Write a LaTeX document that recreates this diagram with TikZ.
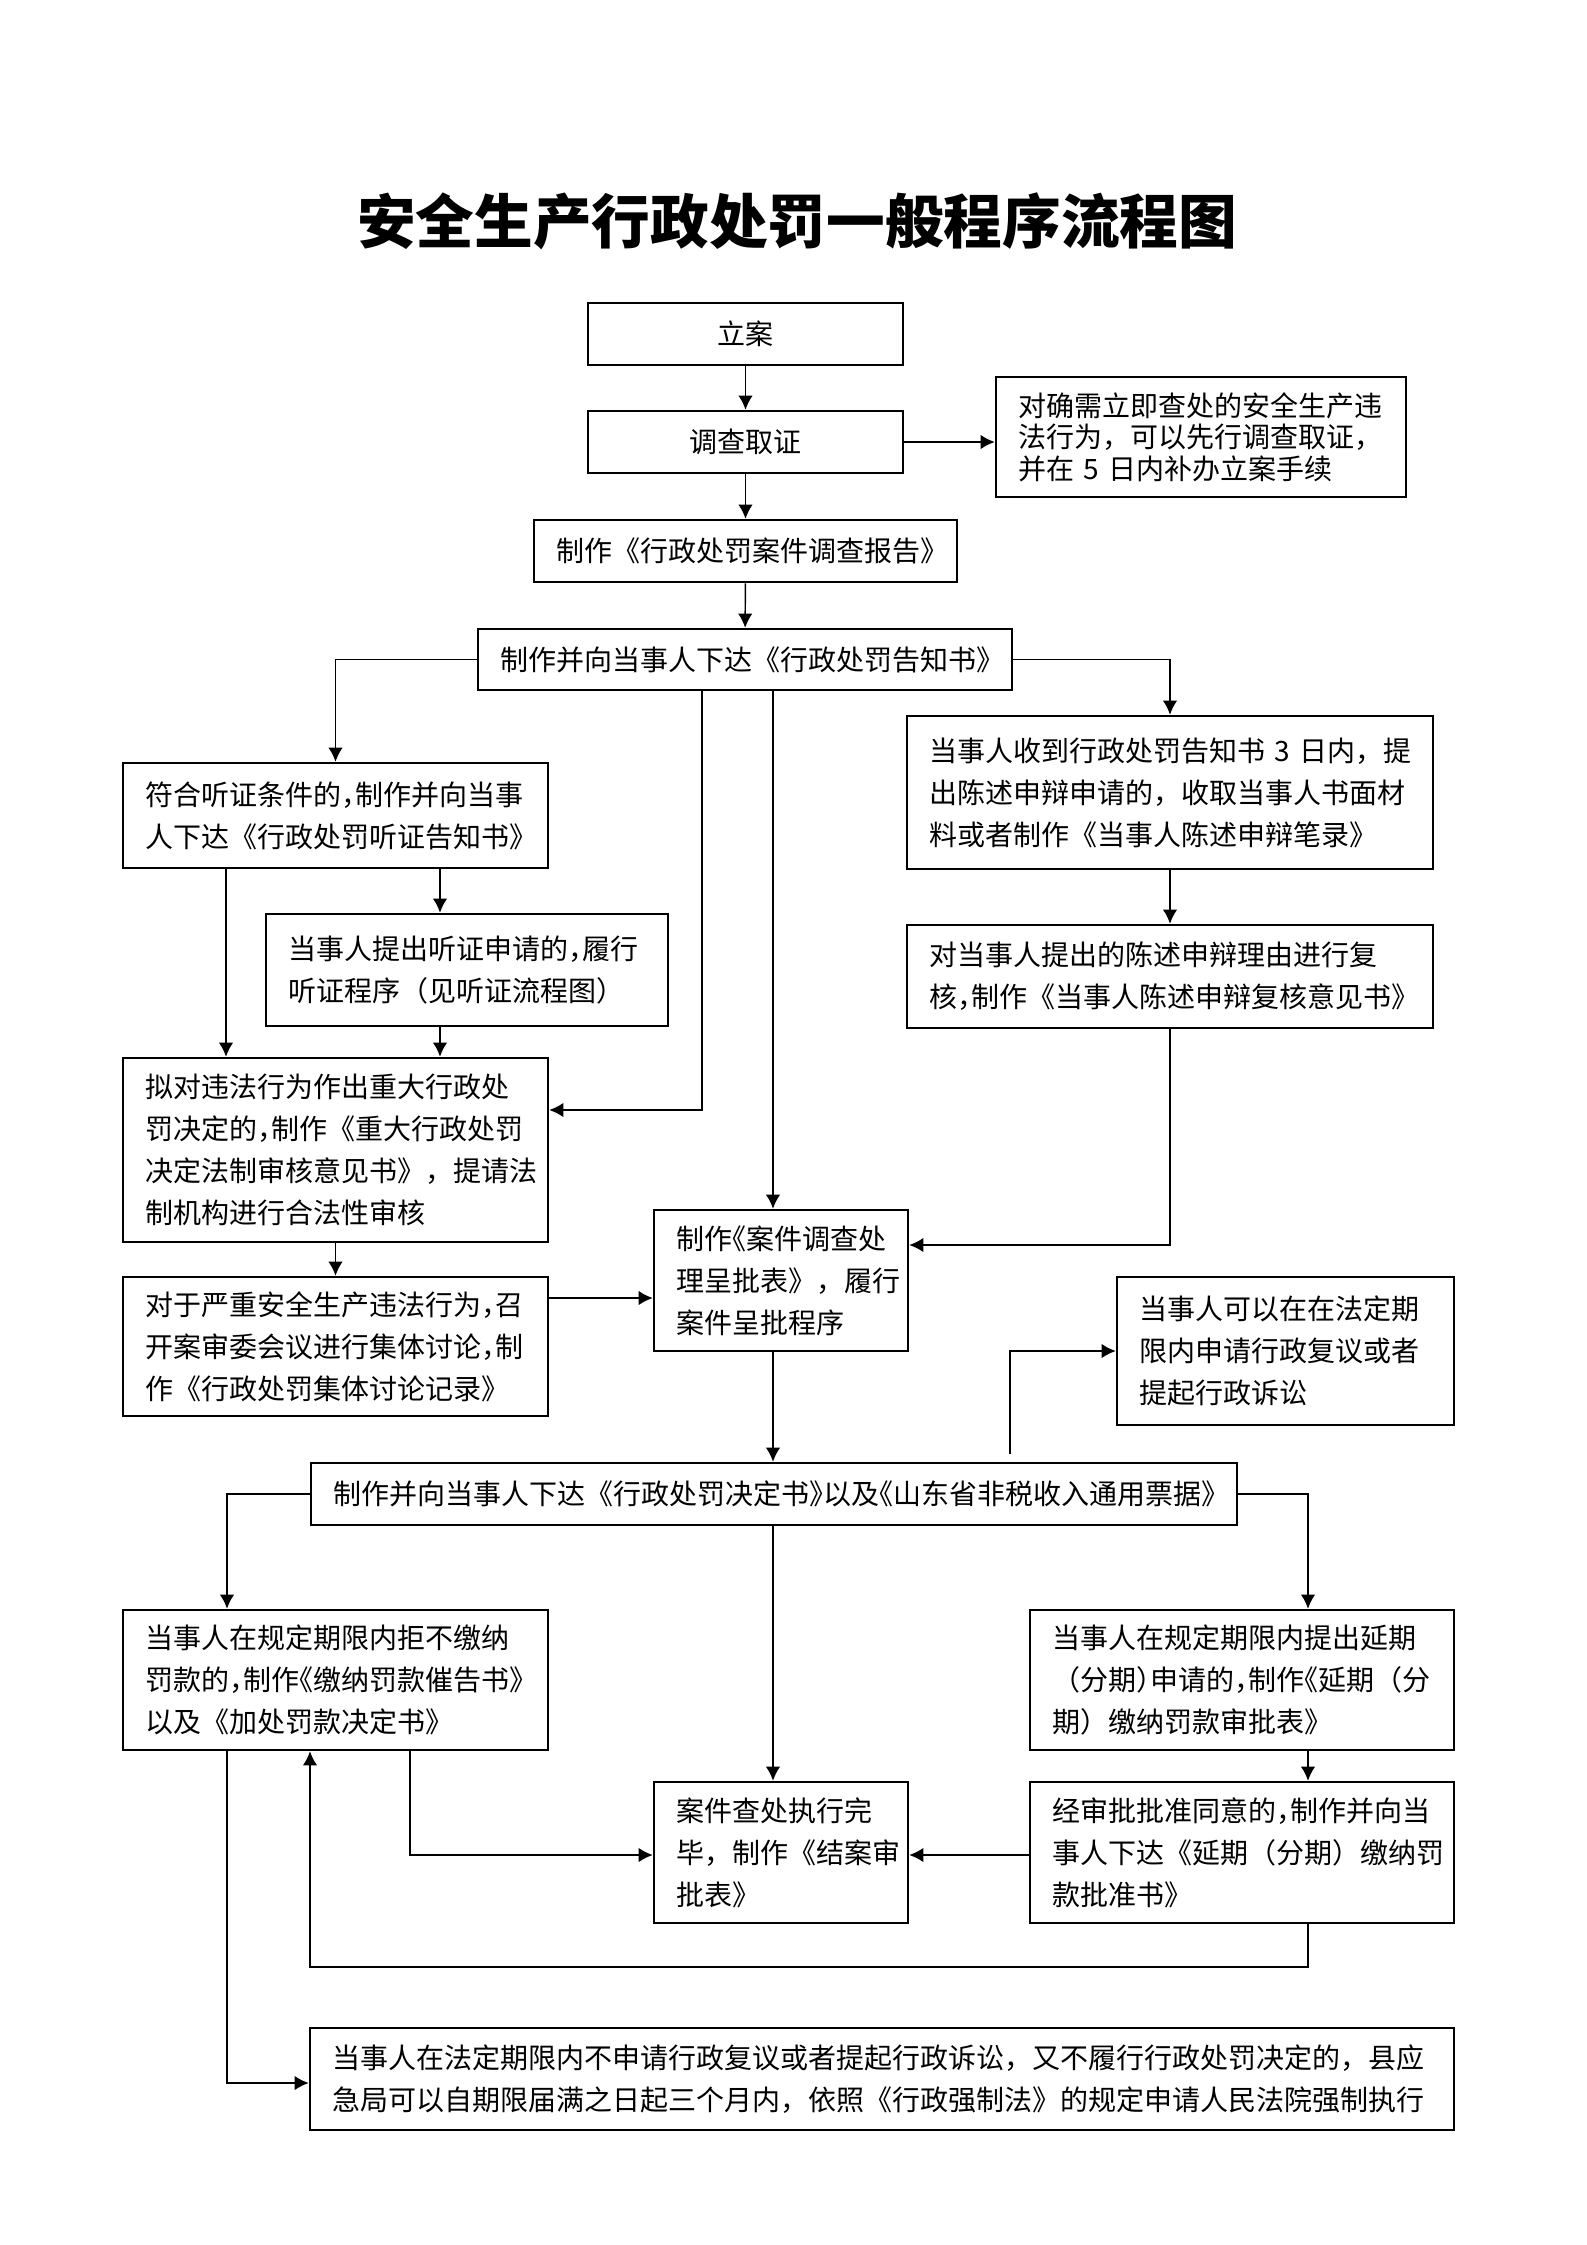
\documentclass[tikz,border=0pt]{standalone}
\usepackage{fontspec}
\newfontfamily\cjk{Noto Sans CJK SC}
\usetikzlibrary{arrows.meta,calc}
\newcommand\hp[1]{{\addfontfeature{RawFeature=+halt}#1}}
\newcommand\flowbox[7]{%
 \pgfmathsetmacro\myBW{(#4-#2)*0.375}%
 \pgfmathsetmacro\myBH{(#5-#3)*0.375}%
 \pgfmathsetmacro\myTW{(#4-#2)*0.375-16.5}%
 \node[box,#6,minimum width=\myBW pt,minimum height=\myBH pt,text width=\myTW pt] (#1) at ({(#2+#4)/2},{(#3+#5)/2}) {#7};}
\tikzset{
 box/.style={draw, line width=0.95pt, inner xsep=8.25pt, inner ysep=0pt, font=\cjk\fontsize{10.5pt}{15.75pt}\selectfont},
 lbox/.style={align=left},
 cbox/.style={align=center},
 notebox/.style={align=left, font=\cjk\fontsize{10.5pt}{11.8pt}\selectfont},
 arr/.style={line width=0.55pt, -{Latex[length=5.3pt,width=5.4pt]}},
 titlestyle/.style={font=\cjk\bfseries\fontsize{22pt}{26pt}\selectfont, inner sep=0pt},
}
\begin{document}
\begin{tikzpicture}[x=0.375pt,y=-0.375pt]
\fill[white] (0,0) rectangle (1587,2245);
\useasboundingbox (0,0) rectangle (1587,2245);

\node[titlestyle] (title) at (797,221) {安全生产行政处罚一般程序流程图};

\flowbox{lian}{588}{303}{903}{365}{cbox}{立案}
\flowbox{diaocha}{588}{411}{903}{473}{cbox}{调查取证}
\flowbox{note}{996}{377}{1406}{497}{notebox}{对确需立即查处的安全生产违\\法行为，可以先行调查取证，\\并在~5~日内补办立案手续}
\flowbox{baogao}{534}{520}{957}{582}{cbox}{制作《行政处罚案件调查报告》}
\flowbox{gaozhi}{478}{629}{1012}{690}{cbox}{制作并向当事人下达《行政处罚告知书》}
\flowbox{tingzheng}{123}{763}{548}{868}{lbox}{符合听证条件的\hp{，}制作并向当事\\人下达《行政处罚听证告知书》}
\flowbox{shoudao}{907}{716}{1433}{869}{lbox}{当事人收到行政处罚告知书~3~日内，提\\出陈述申辩申请的，收取当事人书面材\\料或者制作《当事人陈述申辩笔录》}
\flowbox{shenqing}{266}{914}{668}{1026}{lbox}{当事人提出听证申请的\hp{，}履行\\听证程序（见听证流程图）}
\flowbox{fuhe}{907}{925}{1433}{1028}{lbox}{对当事人提出的陈述申辩理由进行复\\核\hp{，}制作《当事人陈述申辩复核意见书》}
\flowbox{nidui}{123}{1058}{548}{1242}{lbox}{拟对违法行为作出重大行政处\\罚决定的\hp{，}制作《重大行政处罚\\决定法制审核意见书》，提请法\\制机构进行合法性审核}
\flowbox{chengpi}{654}{1210}{908}{1351}{lbox}{制作\hp{《}案件调查处\\理呈批表》，履行\\案件呈批程序}
\flowbox{jiti}{123}{1277}{548}{1416}{lbox}{对于严重安全生产违法行为\hp{，}召\\开案审委会议进行集体讨论\hp{，}制\\作《行政处罚集体讨论记录》}
\flowbox{fuyi}{1117}{1277}{1454}{1425}{lbox}{当事人可以在在法定期\\限内申请行政复议或者\\提起行政诉讼}
\flowbox{jueding}{311}{1463}{1237}{1525}{cbox}{制作并向当事人下达《行政处罚决定书\hp{》}以及\hp{《}山东省非税收入通用票据》}
\flowbox{jubu}{123}{1610}{548}{1750}{lbox}{当事人在规定期限内拒不缴纳\\罚款的\hp{，}制作\hp{《}缴纳罚款催告书》\\以及《加处罚款决定书》}
\flowbox{yanqi}{1030}{1610}{1454}{1750}{lbox}{当事人在规定期限内提出延期\\（分期\hp{）}申请的\hp{，}制作\hp{《}延期（分\\期）缴纳罚款审批表》}
\flowbox{jiean}{654}{1782}{908}{1923}{lbox}{案件查处执行完\\毕，制作《结案审\\批表》}
\flowbox{pizhun}{1030}{1782}{1454}{1923}{lbox}{经审批批准同意的\hp{，}制作并向当\\事人下达《延期（分期）缴纳罚\\款批准书》}
\flowbox{bottom}{310}{2028}{1454}{2130}{lbox}{当事人在法定期限内不申请行政复议或者提起行政诉讼，又不履行行政处罚决定的，县应\\急局可以自期限届满之日起三个月内，依照《行政强制法》的规定申请人民法院强制执行}

% helper coordinates
\coordinate (xA) at (702,0);
\coordinate (xB) at (773,0);
\coordinate (xC) at (440,0);
\coordinate (xD) at (226,0);
\coordinate (xE) at (1010,0);
\coordinate (xF) at (227,0);
\coordinate (xG) at (1308,0);
\coordinate (xH) at (410,0);
\coordinate (xI) at (310,0);
\coordinate (yA) at (0,1110);
\coordinate (yB) at (0,1245);
\coordinate (yC) at (0,1298);
\coordinate (yD) at (0,1967);
\coordinate (yE) at (0,2083);
\coordinate (yF) at (0,1855);

\draw[arr] (lian) -- (diaocha);
\draw[arr] (diaocha.east) -- (diaocha.east -| note.west);
\draw[arr] (diaocha) -- (baogao);
\draw[arr] (baogao) -- (gaozhi);
\draw[arr] (gaozhi.west) -| (tingzheng.north);
\draw[arr] (gaozhi.east) -| (shoudao.north);
\draw[arr] (gaozhi.south -| xA) |- (nidui.east |- yA);
\draw[arr] (gaozhi.south -| xB) -- (chengpi.north -| xB);
\draw[arr] (tingzheng.south -| xD) -- (nidui.north -| xD);
\draw[arr] (tingzheng.south -| xC) -- (shenqing.north -| xC);
\draw[arr] (shenqing.south -| xC) -- (nidui.north -| xC);
\draw[arr] (shoudao) -- (fuhe);
\draw[arr] (fuhe.south) |- (chengpi.east |- yB);
\draw[arr] (nidui) -- (jiti);
\draw[arr] (jiti.east |- yC) -- (chengpi.west |- yC);
\draw[arr] (chengpi.south -| xB) -- (jueding.north -| xB);
\draw[arr, shorten <=3pt] (jueding.north -| xE) |- (fuyi.west);
\draw[arr] (jueding.west) -| (jubu.north -| xF);
\draw[arr] (jueding.east) -| (yanqi.north -| xG);
\draw[arr] (jueding.south -| xB) -- (jiean.north -| xB);
\draw[arr] (yanqi.south -| xG) -- (pizhun.north -| xG);
\draw[arr] (pizhun.west |- yF) -- (jiean.east |- yF);
\draw[arr] (jubu.south -| xH) |- (jiean.west |- yF);
\draw[arr] (pizhun.south -| xG) |- (xI |- yD) -- (jubu.south -| xI);
\draw[arr] (jubu.south -| xF) |- (bottom.west |- yE);
\end{tikzpicture}
\end{document}
